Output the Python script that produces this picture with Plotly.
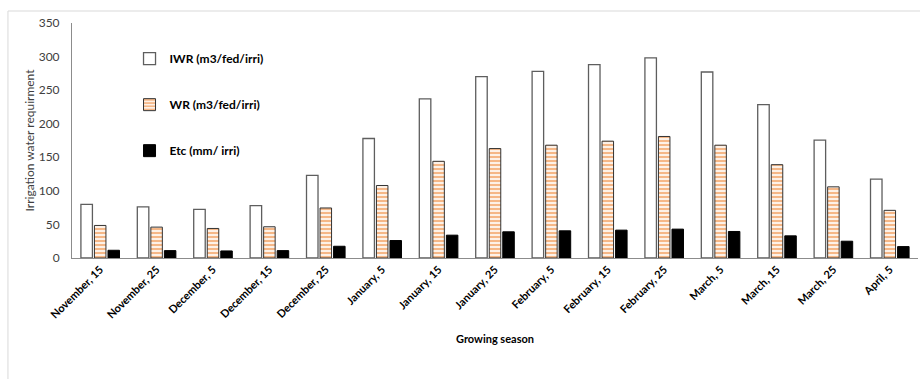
import plotly.graph_objects as go

categories = ["November, 15", "November, 25", "December, 5", "December, 15", "December, 25",
              "January, 5", "January, 15", "January, 25", "February, 5", "February, 15",
              "February, 25", "March, 5", "March, 15", "March, 25", "April, 5"]
iwr = [80, 76, 72.5, 78, 123, 178, 237, 270, 278, 288, 298, 277, 228.5, 175.5, 117.5]
wr = [48.5, 46, 44, 46.5, 74.5, 108, 144, 163, 168, 174, 181, 168, 139, 106, 71]
etc = [11.5, 11, 10.5, 11, 17.5, 26, 34, 39, 40.5, 41.5, 43, 39.5, 33, 25, 17]
y_ticks = [0, 50, 100, 150, 200, 250, 300, 350]

FONT = "Lato"

fig = go.Figure()
fig.add_trace(go.Bar(x=categories, y=iwr, name="IWR (m3/fed/irri)", legendgroup="a",
                     marker=dict(color="white", line=dict(color="#5e5e5e", width=1.3))))
fig.add_trace(go.Bar(x=categories, y=wr, name="WR (m3/fed/irri)", legendgroup="b",
                     marker=dict(color="white", line=dict(color="#333333", width=1),
                                 pattern=dict(shape="-", fgcolor="#ec6f10", bgcolor="white",
                                              size=4, solidity=0.6))))
fig.add_trace(go.Bar(x=categories, y=etc, name="Etc (mm/ irri)", legendgroup="c",
                     marker=dict(color="black", line=dict(color="black", width=1))))

fig.update_layout(
    width=920, height=379,
    margin=dict(l=72, r=2, t=23, b=121),
    paper_bgcolor="white", plot_bgcolor="white",
    barmode="group", bargap=0.28, bargroupgap=0.15,
    font=dict(family=FONT, color="black"),
    showlegend=True,
    legend=dict(x=0.068, y=0.91, xanchor="left", yanchor="top",
                traceorder="grouped", tracegroupgap=27,
                font=dict(family=FONT, size=12, color="black", weight="bold"),
                bgcolor="rgba(0,0,0,0)", itemwidth=30),
    xaxis=dict(tickangle=-45, showline=True, linecolor="#8c8c8c", linewidth=1,
               ticks="", showgrid=False,
               tickfont=dict(family=FONT, size=11, color="black", weight="bold"),
               title=dict(text="Growing season", standoff=15,
                          font=dict(family=FONT, size=11, color="black", weight="bold"))),
    yaxis=dict(range=[0, 350], tickvals=y_ticks, showline=True, linecolor="#8c8c8c",
               linewidth=1, ticks="", showgrid=False, zeroline=False,
               ticklabelstandoff=9,
               tickfont=dict(family=FONT, size=12, color="#404040"),
               title=dict(text="Irrigation water requirment", standoff=1,
                          font=dict(family=FONT, size=12, color="#404040"))),
    shapes=[dict(type="rect", xref="paper", yref="paper", x0=-0.0757, x1=1.01,
                 y0=-0.6, y1=1.051, line=dict(color="#d9d9d9", width=1))],
)

fig.write_html("out.html")
